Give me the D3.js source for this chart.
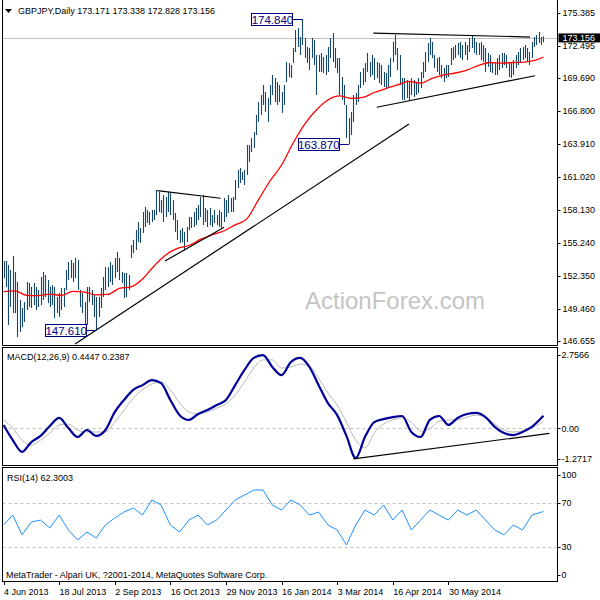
<!DOCTYPE html>
<html><head><meta charset="utf-8">
<script src="https://cdn.jsdelivr.net/npm/d3@7"></script>
<style>body{margin:0;background:#fff}svg{display:block}text{font-family:"Liberation Sans",Arial,sans-serif}</style>
</head><body><svg id="c" width="600" height="600"></svg>
<script>
// ---------- DATA ----------
const highs = [153.67,153.67,153.32,152.88,154.11,152.70,151.83,150.25,149.55,150.08,151.83,151.74,151.39,151.74,151.39,151.13,152.27,152.70,152.44,152.00,151.39,151.57,151.39,150.51,150.87,151.30,151.30,152.88,153.58,153.76,153.49,153.93,153.76,151.13,150.87,150.08,151.39,151.39,151.13,150.69,150.51,150.51,151.30,152.27,153.14,153.14,153.58,153.32,153.93,154.46,153.93,152.70,152.62,152.62,152.44,155.07,155.51,156.38,157.08,156.56,157.96,158.40,158.13,157.96,158.13,158.13,159.89,159.71,159.01,159.45,159.27,159.71,159.62,159.01,157.87,157.26,156.38,156.56,156.21,156.64,157.52,157.52,157.96,158.31,158.57,159.27,159.45,158.31,158.13,158.31,157.70,158.13,157.70,158.13,157.96,159.18,159.01,159.45,159.18,159.27,160.76,161.64,161.81,161.46,161.64,163.82,163.82,164.44,164.96,166.45,167.59,168.20,169.08,168.47,167.94,169.08,169.96,169.69,169.34,169.08,168.47,169.08,171.09,171.00,170.83,172.32,173.90,174.07,173.28,174.84,173.20,172.41,172.32,173.20,173.02,171.71,171.71,171.88,171.53,171.71,172.41,173.20,173.63,172.32,171.44,171.44,169.78,169.08,167.33,166.19,166.72,168.20,168.38,169.08,170.22,170.57,171.00,171.88,171.09,171.71,171.44,171.09,171.00,170.83,170.22,170.13,170.83,171.44,172.85,173.46,172.32,171.71,169.69,169.69,169.52,169.34,169.69,169.52,169.34,169.69,170.22,171.09,171.97,172.76,173.20,172.85,171.71,171.44,171.53,170.83,170.57,170.83,170.83,172.32,172.41,172.58,172.76,172.85,172.58,172.85,172.58,173.20,173.46,173.20,172.85,172.76,172.85,172.58,172.32,171.88,171.71,171.09,171.00,171.44,171.71,171.88,171.88,171.71,171.09,171.00,171.27,171.71,171.97,172.32,172.41,172.58,172.32,171.97,172.85,173.28,173.46,173.72,173.28,173.338];
const lows = [152.18,151.39,148.06,149.64,149.11,149.11,147.01,147.45,147.89,148.33,149.38,149.64,149.55,149.81,149.38,149.64,149.81,150.25,150.51,149.99,149.64,149.81,148.68,149.11,148.76,149.38,149.64,151.13,152.00,152.18,151.83,152.18,151.13,149.64,149.11,148.06,148.06,150.08,149.81,148.76,147.61,148.76,149.55,150.51,151.13,151.39,151.83,151.57,152.18,152.70,152.00,151.74,150.43,150.51,151.13,153.93,154.37,154.63,155.33,155.24,156.12,156.64,156.99,156.82,157.08,157.26,157.70,157.96,157.87,157.08,157.52,157.96,157.70,157.26,156.21,155.51,155.24,155.33,154.63,155.33,156.38,156.56,156.64,156.82,157.26,157.52,156.82,157.08,156.64,156.82,156.64,156.99,156.82,156.64,156.56,157.08,157.52,157.87,157.96,157.96,159.01,160.06,160.50,160.76,160.32,161.20,162.34,163.21,163.56,164.70,165.84,166.45,167.33,166.72,165.84,167.33,168.20,167.59,167.33,167.59,166.63,167.33,169.34,169.78,169.69,171.00,171.97,172.41,171.71,172.58,171.44,171.00,170.39,171.44,170.83,168.20,170.22,170.22,170.13,169.96,170.22,171.44,171.09,170.57,170.13,168.20,167.77,167.33,164.44,163.87,164.70,165.84,167.33,167.59,168.82,169.08,169.34,170.22,169.78,169.96,169.52,169.69,169.25,169.08,168.91,168.82,168.91,169.78,171.09,171.71,170.39,169.08,167.77,167.77,167.94,167.77,168.20,168.03,168.20,168.38,168.82,169.69,170.22,171.09,171.71,171.44,170.57,170.22,169.96,169.69,169.34,169.69,169.78,170.83,171.27,171.44,171.71,171.44,171.27,171.71,171.27,171.97,172.32,171.88,171.71,171.71,171.27,171.09,170.22,170.66,170.22,170.13,169.96,169.96,170.39,170.57,170.83,170.57,169.78,169.69,169.96,170.57,170.83,171.09,171.27,171.44,171.09,170.83,171.44,172.41,172.58,172.76,172.58,172.828];
const lastOHLC = [173.171, 173.338, 172.828, 173.156];

const maIndex = [0,5,10,15,20,25,30,35,40,45,50,55,60,65,70,75,80,85,90,95,100,105,110,115,120,125,130,135,140,145,150,155,160,165,170,175,180,185,190,195,200,205,210,215,220,225,230,233];
const maValues = [150.98,151.04,150.65,150.63,150.76,150.65,151.00,150.93,150.69,150.73,151.26,151.39,152.09,153.23,154.19,154.76,155.02,155.55,155.94,156.29,156.82,157.35,159.01,160.67,162.07,164.00,165.66,166.89,167.77,168.12,167.90,167.99,168.42,168.77,169.08,169.39,169.25,169.65,169.96,170.13,170.39,170.79,171.05,171.00,171.05,171.09,171.27,171.53];

const indIndex = [0,4,8,12,16,20,24,28,32,36,40,44,48,52,56,60,64,68,72,76,80,84,88,92,96,100,104,108,112,116,120,124,128,132,136,140,144,148,152,156,160,164,168,172,176,180,184,188,192,196,200,204,208,212,216,220,224,228,233];
const macdValues = [0.12,-0.42,-0.84,-0.49,-0.27,0.08,0.37,0.01,-0.31,-0.06,-0.27,-0.06,0.58,1.01,1.37,1.54,1.72,1.61,1.01,0.47,0.30,0.51,0.65,0.83,1.01,1.54,2.08,2.51,2.61,2.19,1.90,2.36,2.51,2.19,1.54,0.90,0.47,-0.27,-1.06,-0.31,0.22,0.33,0.40,0.44,-0.13,-0.31,0.30,0.44,0.12,0.37,0.51,0.55,0.40,0.05,-0.17,-0.24,-0.13,0.05,0.4447];
const signalValues = [0.30,0.01,-0.42,-0.60,-0.42,-0.17,0.12,0.15,-0.06,-0.13,-0.13,-0.13,0.22,0.65,1.08,1.37,1.58,1.65,1.37,0.90,0.58,0.51,0.58,0.72,0.87,1.19,1.65,2.15,2.44,2.44,2.15,2.19,2.29,2.22,1.79,1.26,0.83,0.22,-0.42,-0.70,-0.17,0.15,0.30,0.37,0.22,-0.10,-0.02,0.26,0.30,0.30,0.40,0.47,0.40,0.15,-0.06,-0.13,-0.10,0.01,0.2387];
const rsiValues = [50,59,41,52.7,54.5,47.3,59,45.5,36.4,43.6,38.2,50,56.4,61.8,65.5,59,72.7,68.2,50,43.6,54.5,59,50,54.5,63.6,72.7,77.3,81.8,81.8,68.2,63.6,72.7,68.2,59,61.8,50,45.5,31.8,50,63.6,59,68.2,54.5,63.6,45.5,54.5,63.6,59,54.5,63.6,59,63.6,54.5,45.5,41,50,45.5,59,62.3003];

const priceTicks = [175.385,172.495,169.690,166.800,163.910,161.020,158.130,155.240,152.350,149.460,146.655];
const macdTicks = [2.7566, 0, -1.2717];
const macdTickLabels = ["2.7566","0.00","-1.2717"];
const rsiTicks = [100,70,30,0];
const dateIndex = [0,24,48,72,96,120,144,168,192];
const dateLabels = ["4 Jun 2013","18 Jul 2013","2 Sep 2013","16 Oct 2013","29 Nov 2013","16 Jan 2014","3 Mar 2014","16 Apr 2014","30 May 2014"];

const priceNotes = [{i:129,p:174.840,t:"174.840"},{i:149,p:163.870,t:"163.870"},{i:40,p:147.610,t:"147.610"}];
const priceLines = [
  [[30.9,146.40],[175.0,165.66]],
  [[66.4,159.82],[93.7,159.16]],
  [[69.7,153.66],[95.2,156.62]],
  [[159.6,173.63],[227.2,173.28]],
  [[161.1,167.13],[229.4,169.89]]
];
const macdLines = [[[151.0,-1.09],[235.6,-0.18]]];

// ---------- DRAW ----------
const svg = d3.select("#c");
const L = 2.5, R = 557.5;
const x = d3.scaleLinear().domain([0,233]).range([3.5,543.4]);
const y = d3.scaleLinear().domain([146.655,175.385]).range([341,13]);
const ym = d3.scaleLinear().domain([-1.2717,2.7566]).range([464,351]);
const yr = d3.scaleLinear().domain([0,100]).range([580,470]);
const px = v => Math.round(v)+0.5;
const fs = 9;

svg.append("rect").attr("width",600).attr("height",600).attr("fill","#fff");

const defs = svg.append("defs");
defs.append("clipPath").attr("id","cm").append("rect").attr("x",L).attr("y",0).attr("width",R-L).attr("height",345);
defs.append("clipPath").attr("id","cd").append("rect").attr("x",L).attr("y",347).attr("width",R-L).attr("height",118);
defs.append("clipPath").attr("id","cr").append("rect").attr("x",L).attr("y",467).attr("width",R-L).attr("height",114);

const gMain = svg.append("g").attr("clip-path","url(#cm)");
gMain.append("line").attr("x1",L).attr("x2",R).attr("y1",px(y(lastOHLC[3]))).attr("y2",px(y(lastOHLC[3]))).attr("stroke","#c0c0c0");

svg.append("text").attr("x",395).attr("y",309).attr("text-anchor","middle").attr("font-size",24).attr("fill","#c4c4c4").text("ActionForex.com");

gMain.selectAll("line.bar").data(highs).join("line").attr("class","bar")
  .attr("x1",(d,i)=>px(x(i))).attr("x2",(d,i)=>px(x(i)))
  .attr("y1",(d,i)=>y(highs[i])).attr("y2",(d,i)=>y(lows[i]))
  .attr("stroke","#16466a").attr("stroke-width",1.1);

gMain.append("path").datum(maIndex.map((k,j)=>[k,maValues[j]]))
  .attr("d",d3.line().x(d=>x(d[0])).y(d=>y(d[1])).curve(d3.curveMonotoneX))
  .attr("fill","none").attr("stroke","#ff0000").attr("stroke-width",1.3);

gMain.selectAll("line.tl").data(priceLines).join("line").attr("class","tl")
  .attr("x1",d=>x(d[0][0])).attr("y1",d=>y(d[0][1])).attr("x2",d=>x(d[1][0])).attr("y2",d=>y(d[1][1]))
  .attr("stroke","#000").attr("stroke-width",1.2);

priceNotes.forEach(n=>{
  const bx = x(n.i), by = y(n.p);
  const w = 41, h = 12, rx = bx-10-w;
  svg.append("line").attr("x1",rx+w).attr("x2",bx).attr("y1",px(by)).attr("y2",px(by)).attr("stroke","#000080");
  svg.append("rect").attr("x",Math.round(rx)+0.5).attr("y",Math.round(by-h/2)+0.5).attr("width",w).attr("height",h).attr("fill","#fff").attr("stroke","#000080");
  svg.append("text").attr("x",rx+w/2+0.5).attr("y",by+4.5).attr("text-anchor","middle").attr("font-size",11.5).attr("fill","#000080").text(n.t);
});

const gM = svg.append("g").attr("clip-path","url(#cd)");
gM.append("line").attr("x1",L).attr("x2",R).attr("y1",px(ym(0))).attr("y2",px(ym(0))).attr("stroke","#c0c0c0").attr("stroke-dasharray","3,3");
gM.append("path").datum(indIndex.map((k,j)=>[k,signalValues[j]]))
  .attr("d",d3.line().x(d=>x(d[0])).y(d=>ym(d[1])).curve(d3.curveMonotoneX))
  .attr("fill","none").attr("stroke","#b8b8b8").attr("stroke-width",1);
gM.append("path").datum(indIndex.map((k,j)=>[k,macdValues[j]]))
  .attr("d",d3.line().x(d=>x(d[0])).y(d=>ym(d[1])).curve(d3.curveMonotoneX))
  .attr("fill","none").attr("stroke","#000099").attr("stroke-width",2.2);
gM.selectAll("line.mtl").data(macdLines).join("line").attr("class","mtl")
  .attr("x1",d=>x(d[0][0])).attr("y1",d=>ym(d[0][1])).attr("x2",d=>x(d[1][0])).attr("y2",d=>ym(d[1][1]))
  .attr("stroke","#000").attr("stroke-width",1.2);

const gR = svg.append("g").attr("clip-path","url(#cr)");
[70,30].forEach(v=>gR.append("line").attr("x1",L).attr("x2",R).attr("y1",px(yr(v))).attr("y2",px(yr(v))).attr("stroke","#c0c0c0").attr("stroke-dasharray","3,3"));
gR.append("path").datum(indIndex.map((k,j)=>[k,rsiValues[j]]))
  .attr("d",d3.line().x(d=>x(d[0])).y(d=>yr(d[1])))
  .attr("fill","none").attr("stroke","#1e90ff").attr("stroke-width",1);

// panel frames (main panel open at the top)
svg.append("path").attr("d",`M${L},0V345.5H${R}V0`).attr("fill","none").attr("stroke","#000");
[[347.5,465.5],[467.5,581.5]].forEach(([t,b])=>{
  svg.append("rect").attr("x",L).attr("y",t).attr("width",R-L).attr("height",b-t).attr("fill","none").attr("stroke","#000");
});

priceTicks.forEach(v=>{
  svg.append("line").attr("x1",R).attr("x2",R+3).attr("y1",px(y(v))).attr("y2",px(y(v))).attr("stroke","#000");
  svg.append("text").attr("x",R+5).attr("y",y(v)+3.3).attr("font-size",fs).attr("fill","#000").text(d3.format(".3f")(v));
});
macdTicks.forEach((v,k)=>{
  const yy = k===0 ? 355 : (k===2 ? 459 : ym(v));
  svg.append("line").attr("x1",R).attr("x2",R+3).attr("y1",px(yy)).attr("y2",px(yy)).attr("stroke","#000");
  svg.append("text").attr("x",R+4).attr("y",yy+3.3).attr("font-size",fs).attr("fill","#000").text(macdTickLabels[k]);
});
rsiTicks.forEach(v=>{
  const yy = v===100 ? 475 : (v===0 ? 575 : yr(v));
  svg.append("line").attr("x1",R).attr("x2",R+3).attr("y1",px(yy)).attr("y2",px(yy)).attr("stroke","#000");
  svg.append("text").attr("x",R+4).attr("y",yy+3.3).attr("font-size",fs).attr("fill","#000").text(v);
});

const cy = y(lastOHLC[3]);
svg.append("rect").attr("x",R+1).attr("y",cy-5).attr("width",42).attr("height",9).attr("fill","#000");
svg.append("text").attr("x",R+5).attr("y",cy+3).attr("font-size",fs).attr("fill","#fff").text(d3.format(".3f")(lastOHLC[3]));

dateIndex.forEach((k,j)=>{
  svg.append("line").attr("x1",px(x(k))).attr("x2",px(x(k))).attr("y1",581).attr("y2",585).attr("stroke","#000");
  svg.append("text").attr("x",x(k)+0.5).attr("y",595).attr("font-size",fs).attr("fill","#000").text(dateLabels[j]);
});

svg.append("path").attr("d","M5,9L12,9L8.5,13Z").attr("fill","#000");
svg.append("text").attr("x",18).attr("y",14).attr("font-size",fs).attr("fill","#000").text("GBPJPY,Daily  "+lastOHLC.map(d3.format(".3f")).join(" "));
svg.append("text").attr("x",7).attr("y",360).attr("font-size",fs).attr("fill","#000").text("MACD(12,26,9) 0.4447 0.2387");
svg.append("text").attr("x",7).attr("y",481).attr("font-size",fs).attr("fill","#000").text("RSI(14) 62.3003");
svg.append("text").attr("x",6).attr("y",578).attr("font-size",fs).attr("fill","#000").text("MetaTrader - Alpari UK, ?2001-2014, MetaQuotes Software Corp.");
</script></body></html>
